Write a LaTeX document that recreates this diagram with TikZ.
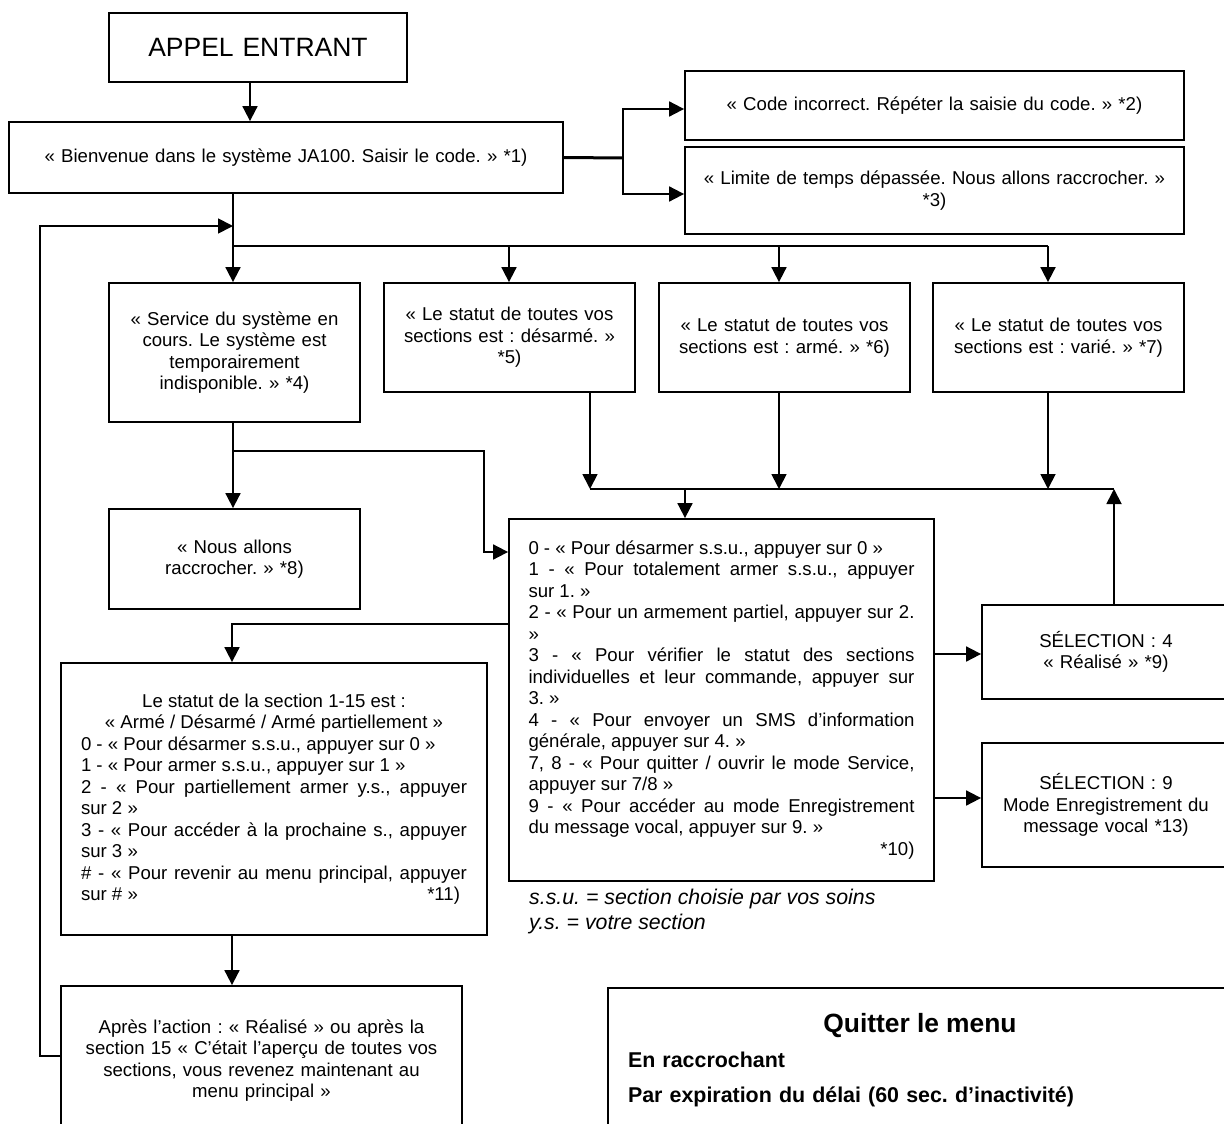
\documentclass[tikz,border=0pt]{standalone}
\usepackage{fontspec}
\setmainfont{Liberation Sans}
\usetikzlibrary{arrows.meta}
\setlength{\parindent}{0pt}
\frenchspacing
\hbadness=10000
\tolerance=9000
\hyphenpenalty=10000
\exhyphenpenalty=10000
\begin{document}
\begin{tikzpicture}[x=1pt,y=-1pt,
  box/.style={draw, line width=1.8pt, inner sep=0pt, align=center, font=\fontsize{18.6}{21.5}\selectfont},
  jbox/.style={draw, line width=1.8pt, inner ysep=0pt, align=justify, font=\fontsize{18.6}{21.5}\selectfont},
  conn/.style={line width=1.8pt},
  thickline/.style={line width=3pt},
  arr/.style={line width=1.8pt, -{Triangle[length=15pt,width=15pt]}},
]
\useasboundingbox (0,0) rectangle (1224,1124);
\clip (0,0) rectangle (1224,1124);

% boxes
\node[box, font=\fontsize{26.5}{30}\selectfont, text width=298pt, minimum height=69pt] (appel) at (258,47.5) {APPEL ENTRANT};
\node[box, text width=554pt, minimum height=71pt] (bien) at (286,157.5) {« Bienvenue dans le système JA100. Saisir le code. » *1)};
\node[box, text width=499pt, minimum height=69pt] (code) at (934.5,105.5) {« Code incorrect. Répéter la saisie du code. » *2)};
\node[box, text width=499pt, minimum height=87pt] (limite) at (934.5,190.5) {« Limite de temps dépassée. Nous allons raccrocher. »\\{}*3)};
\node[box, text width=251pt, minimum height=139pt] (service) at (234.5,352.5) {« Service du système en\\cours. Le système est\\temporairement\\indisponible. » *4)};
\node[box, text width=251pt, minimum height=109pt] (desarme) at (509.5,337.5) {« Le statut de toutes vos\\sections est : désarmé. »\\{}*5)};
\node[box, text width=251pt, minimum height=109pt] (arme) at (784.5,337.5) {« Le statut de toutes vos\\sections est : armé. » *6)};
\node[box, text width=251pt, minimum height=109pt] (varie) at (1058.5,337.5) {« Le statut de toutes vos\\sections est : varié. » *7)};
\node[box, text width=251pt, minimum height=100pt] (nous) at (234.5,559) {« Nous allons\\raccrocher. » *8)};
\node[jbox, text width=386pt, inner xsep=19.5pt, minimum height=362pt] (big) at (721.5,700) {%
0 - « Pour désarmer s.s.u., appuyer sur 0 »\par
1 - « Pour totalement armer s.s.u., appuyer \linebreak sur 1. »\par
2 - « Pour un armement partiel, appuyer sur 2. \linebreak »\par
3 - « Pour vérifier le statut des sections \linebreak individuelles et leur commande, appuyer sur \linebreak 3. »\par
4 - « Pour envoyer un SMS d’information \linebreak générale, appuyer sur 4. »\par
7, 8 - « Pour quitter / ouvrir le mode Service, \linebreak appuyer sur 7/8 »\par
9 - « Pour accéder au mode Enregistrement \linebreak du message vocal, appuyer sur 9. »\par
{\parfillskip=0pt\relax\hspace*{\fill}*10)\par}};
\node[box, text width=248pt, minimum height=94pt] (sel4) at (1106,652) {SÉLECTION : 4\\« Réalisé » *9)};
\node[box, text width=248pt, minimum height=124pt] (sel9) at (1106,805) {SÉLECTION : 9\\Mode Enregistrement du\\message vocal *13)};
\node[jbox, text width=386pt, inner xsep=20pt, minimum height=272pt] (statut) at (274,799) {%
{\centering Le statut de la section 1-15 est :\par « Armé / Désarmé / Armé partiellement »\par}
0 - « Pour désarmer s.s.u., appuyer sur 0 »\par
1 - « Pour armer s.s.u., appuyer sur 1 »\par
2 - « Pour partiellement armer y.s., appuyer \linebreak sur 2 »\par
3 - « Pour accéder à la prochaine s., appuyer \linebreak sur 3 »\par
{\parfillskip=0pt\relax \# - « Pour revenir au menu principal, appuyer \linebreak sur \# »\hfill *11)\hspace*{7pt}\par}
\vspace*{12pt}};
\node[box, text width=401pt, minimum height=149pt] (apres) at (261.5,1060.5) {Après l’action : « Réalisé » ou après la\\section 15 « C’était l’aperçu de toutes vos\\sections, vous revenez maintenant au\\menu principal »};
\node[draw, line width=1.8pt, text width=584pt, inner xsep=20pt, inner ysep=0pt, minimum height=145pt, align=left, font=\bfseries\fontsize{21.4}{35}\selectfont] (quit) at (920,1060.5) {{\centering\fontsize{26.4}{35}\selectfont Quitter le menu\par}En raccrochant\par Par expiration du délai (60 sec. d’inactivité)};
\node[anchor=north west, inner sep=0pt, align=left, font=\itshape\fontsize{21.3}{25}\selectfont] (legend) at (529,889) {s.s.u. = section choisie par vos soins\\y.s. = votre section};

% junction points
\coordinate (bus) at (233,246);
\coordinate (busR) at (1048,246);
\coordinate (d1) at (509,246);
\coordinate (d2) at (779,246);
\coordinate (ret) at (40,226);
\coordinate (fork) at (623,158);
\coordinate (mL) at (590,489);
\coordinate (mR) at (1114,489);
\coordinate (mC) at (685,489);
\coordinate (s1) at (233,451);
\coordinate (s2) at (484,451);
\coordinate (s3) at (484,552);
\coordinate (t1) at (232,624);
\coordinate (a4) at (934,654);
\coordinate (a9) at (934,798);

% connectors
\draw[arr] ([xshift=-8pt]appel.south) -- ([xshift=-8pt]appel.south |- bien.north);
\draw[thickline] (bien.east) -- (fork);
\draw[arr] (fork) |- ([yshift=-3.5pt]code.west);
\draw[arr] (fork) |- ([yshift=-3.5pt]limite.west);
\draw[arr] (bien.south -| bus) -- (service.north -| bus);
\draw[conn] (bus) -- (busR);
\draw[arr] (d1) -- (d1 |- desarme.north);
\draw[arr] (d2) -- (d2 |- arme.north);
\draw[arr] (busR) -- (busR |- varie.north);
\draw[arr] ([yshift=4.5pt]apres.west) -| (ret) -- (ret -| bus);
\draw[arr] (mL |- desarme.south) -- (mL);
\draw[arr] (d2 |- arme.south) -- (d2 |- mL);
\draw[arr] (busR |- varie.south) -- (busR |- mL);
\draw[conn] (mL) -- (mR);
\draw[arr] (mR |- sel4.north) -- (mR);
\draw[arr] (mC) -- (mC |- big.north);
\draw[arr] (service.south -| bus) -- (nous.north -| bus);
\draw[arr] (s1) -- (s2) -- (s3) -- (s3 -| big.west);
\draw[arr] (t1 -| big.west) -- (t1) -- (t1 |- statut.north);
\draw[arr] (statut.south -| t1) -- (apres.north -| t1);
\draw[arr] (a4) -- (a4 -| sel4.west);
\draw[arr] (a9) -- (a9 -| sel9.west);
\end{tikzpicture}
\end{document}
